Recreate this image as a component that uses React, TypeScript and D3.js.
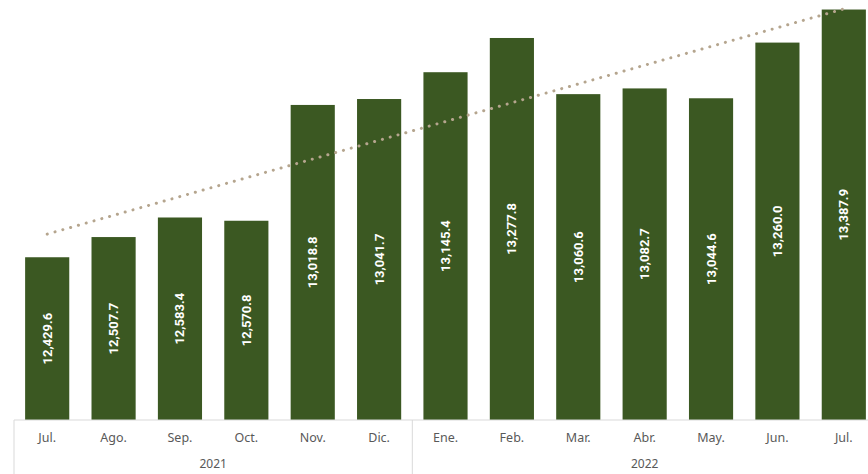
import React from 'react'
import * as d3 from 'd3'

const months = ['Jul.', 'Ago.', 'Sep.', 'Oct.', 'Nov.', 'Dic.', 'Ene.', 'Feb.', 'Mar.', 'Abr.', 'May.', 'Jun.', 'Jul.']
const values = [12429.6, 12507.7, 12583.4, 12570.8, 13018.8, 13041.7, 13145.4, 13277.8, 13060.6, 13082.7, 13044.6, 13260.0, 13387.9]
const labels = ['12,429.6', '12,507.7', '12,583.4', '12,570.8', '13,018.8', '13,041.7', '13,145.4', '13,277.8', '13,060.6', '13,082.7', '13,044.6', '13,260.0', '13,387.9']
const years = [
  { year: '2021', from: 0, to: 5 },
  { year: '2022', from: 6, to: 12 },
]

const W = 868
const H = 474
const baseY = 420
const barColor = '#3b5822'
const axisColor = '#d9d9d9'
const textColor = '#595959'

export default function App() {
  const keys = months.map((_, i) => String(i))
  const x = d3.scaleBand<string>().domain(keys).range([14, 877]).paddingInner(0.335).paddingOuter(0.1675)
  const y = d3.scaleLinear().domain([11800, 13400]).range([baseY, baseY - 1600 * 0.2585])

  // linear trend line (least squares over the series)
  const n = values.length
  const mi = (n - 1) / 2
  const mv = d3.mean(values) as number
  const slope = d3.sum(values, (v, i) => (i - mi) * (v - mv)) / d3.sum(values, (_, i) => (i - mi) ** 2)
  const trend = values.map((_, i) => [x(String(i))! + x.bandwidth() / 2, y(mv + slope * (i - mi))] as [number, number])
  const line = d3.line()

  const step = x.step()

  return (
    <svg width={W} height={H} style={{ position: 'absolute', left: 0, top: 0, background: '#fff' }}>
      {values.map((v, i) => {
        const bx = x(String(i))!
        const top = y(v)
        const cx = bx + x.bandwidth() / 2
        const cy = (top + baseY) / 2
        return (
          <g key={i}>
            <rect x={bx} y={top} width={x.bandwidth()} height={baseY - top} fill={barColor} />
            <text
              transform={`translate(${cx},${cy}) rotate(-90)`}
              textAnchor="middle"
              dominantBaseline="central"
              fill="#ffffff"
              fontFamily="Roboto, sans-serif"
              fontWeight="bold"
              fontSize={13}
            >
              {labels[i]}
            </text>
          </g>
        )
      })}
      <path
        d={line(trend) || ''}
        fill="none"
        stroke="#b5a58e"
        strokeWidth={3}
        strokeLinecap="round"
        strokeDasharray="0.1 8"
      />
      <line x1={14} x2={W} y1={baseY} y2={baseY} stroke={axisColor} strokeWidth={1} />
      {years.map((g) => {
        const left = x(String(g.from))! - (step - x.bandwidth()) / 2
        const right = x(String(g.to))! + x.bandwidth() + (step - x.bandwidth()) / 2
        return (
          <g key={g.year}>
            <line x1={left} x2={left} y1={baseY} y2={H} stroke={axisColor} strokeWidth={1} />
            <text
              x={(left + right) / 2}
              y={468}
              textAnchor="middle"
              fill={textColor}
              fontFamily="'Noto Sans', sans-serif"
              fontSize={12}
            >
              {g.year}
            </text>
          </g>
        )
      })}
      {months.map((m, i) => (
        <text
          key={i}
          x={x(String(i))! + x.bandwidth() / 2}
          y={442}
          textAnchor="middle"
          fill={textColor}
          fontFamily="'Noto Sans', sans-serif"
          fontSize={12.5}
        >
          {m}
        </text>
      ))}
    </svg>
  )
}
